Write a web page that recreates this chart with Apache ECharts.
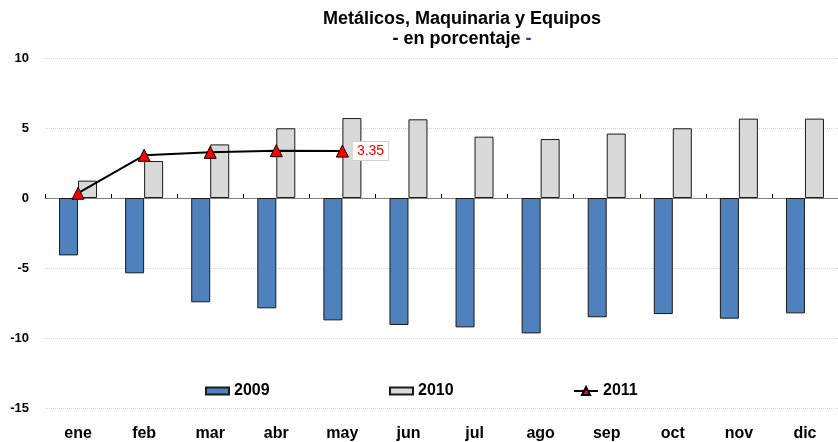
<!DOCTYPE html>
<html>
<head>
<meta charset="utf-8">
<script src="https://cdn.jsdelivr.net/npm/echarts@6/dist/echarts.min.js"></script>
<style>
  html, body { margin: 0; padding: 0; background: #fff; }
  #chart { width: 838px; height: 442px; }
</style>
</head>
<body>
<div id="chart"></div>
<script>
var months = ["ene", "feb", "mar", "abr", "may", "jun", "jul", "ago", "sep", "oct", "nov", "dic"];
var data2009 = [-4.1, -5.38, -7.45, -7.88, -8.74, -9.07, -9.24, -9.67, -8.52, -8.29, -8.62, -8.24];
var data2010 = [1.24, 2.64, 3.83, 4.98, 5.71, 5.62, 4.38, 4.21, 4.6, 4.98, 5.67, 5.67];
var data2011 = [0.34, 3.05, 3.26, 3.38, 3.35, null, null, null, null, null, null, null];
var yTicks = [-15, -10, -5, 0, 5, 10];

var font = "Arial, 'Liberation Sans', sans-serif";
var chart = echarts.init(document.getElementById("chart"));

// only the last 2011 point carries a value label
var lineData = data2011.map(function (v, i) {
  if (i === 4) {
    return {
      value: v,
      label: {
        show: true,
        position: "right",
        distance: 4,
        color: "#ff0000",
        fontSize: 14,
        fontFamily: font,
        backgroundColor: "#fff",
        borderColor: "#d0d0d0",
        borderWidth: 1,
        padding: [3, 4, 1, 4]
      }
    };
  }
  return v;
});

var legendText = { fontSize: 16, fontWeight: "bold", color: "#000", fontFamily: font };

chart.setOption({
  animation: false,
  title: {
    text: "Metálicos, Maquinaria y Equipos\n- en porcentaje {b|-}",
    left: 457,
    top: 4,
    textAlign: "center",
    textStyle: {
      fontSize: 18,
      fontWeight: "bold",
      color: "#000",
      fontFamily: font,
      lineHeight: 20,
      rich: {
        b: { fontSize: 18, fontWeight: "bold", color: "#1f3fa8", fontFamily: font, lineHeight: 20 }
      }
    }
  },
  legend: [
    { data: ["2009"], icon: "rect", left: 205, top: 383, padding: 0, itemWidth: 23, itemHeight: 7, itemGap: 3, textStyle: legendText },
    { data: ["2010"], icon: "rect", left: 389, top: 383, padding: 0, itemWidth: 23, itemHeight: 7, itemGap: 3, textStyle: legendText },
    { data: ["2011"], left: 573, top: 383, padding: 0, itemWidth: 24, itemHeight: 10, itemGap: 3, textStyle: legendText }
  ],
  grid: { left: 45, right: 0, top: 58, bottom: 34 },
  xAxis: [
    {
      type: "category",
      data: months,
      axisLine: { onZero: true, lineStyle: { color: "#808080", width: 1 } },
      axisTick: { show: true, inside: true, length: 4, lineStyle: { color: "#000" } },
      axisLabel: { show: false }
    },
    {
      type: "category",
      data: months,
      position: "bottom",
      axisLine: { show: false, onZero: false },
      axisTick: { show: false },
      axisLabel: { margin: 18, fontSize: 16, fontWeight: "bold", color: "#000", fontFamily: font }
    }
  ],
  yAxis: {
    type: "value",
    min: yTicks[0],
    max: yTicks[yTicks.length - 1],
    interval: 5,
    axisLine: { show: false },
    axisTick: { show: false },
    axisLabel: { margin: 16, fontSize: 13, fontWeight: "bold", color: "#000", fontFamily: font },
    splitLine: { lineStyle: { color: "#d4d4d4", type: "dotted", width: 1 } }
  },
  series: [
    {
      name: "2009",
      type: "bar",
      data: data2009,
      barWidth: 19,
      barGap: "0%",
      itemStyle: { color: "#4f81bd", borderColor: "#1a1a1a", borderWidth: 1 }
    },
    {
      name: "2010",
      type: "bar",
      data: data2010,
      barWidth: 19,
      barGap: "0%",
      itemStyle: { color: "#d9d9d9", borderColor: "#1a1a1a", borderWidth: 1 }
    },
    {
      name: "2011",
      type: "line",
      data: lineData,
      symbol: "triangle",
      symbolSize: 12,
      lineStyle: { color: "#000", width: 2 },
      itemStyle: { color: "#ff0000", borderColor: "#000", borderWidth: 1 },
      z: 5
    }
  ]
});
</script>
</body>
</html>
